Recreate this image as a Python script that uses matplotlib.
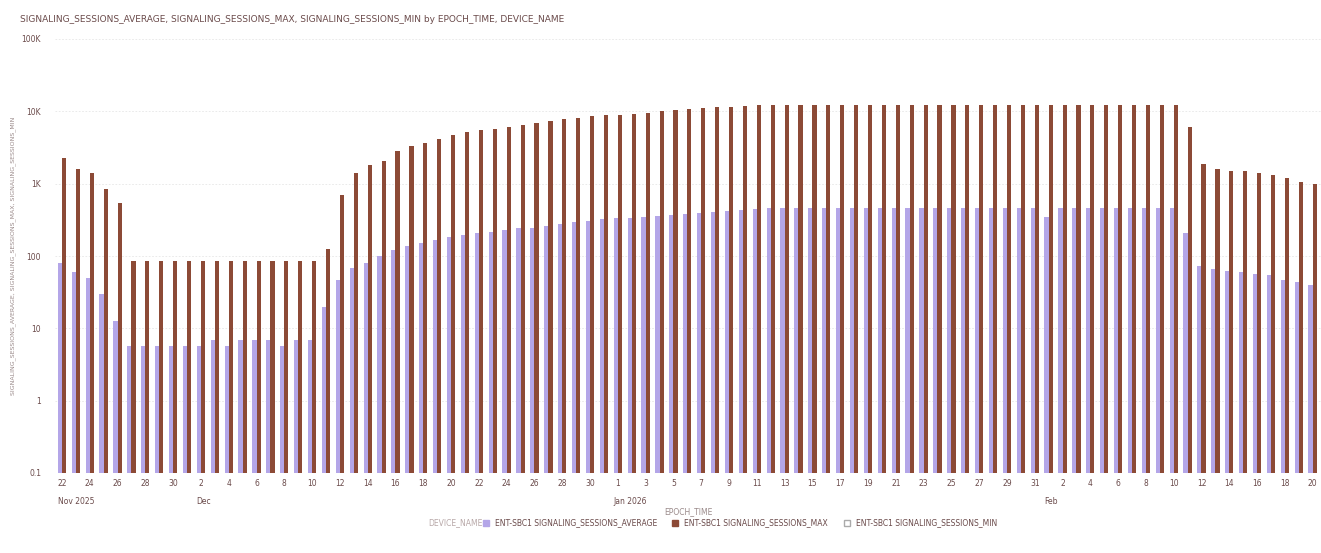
import numpy as np
import pandas as pd
import matplotlib
matplotlib.use("Agg")
import matplotlib.pyplot as plt
from matplotlib.patches import Patch

dates = pd.date_range("2025-11-22", "2026-02-20", freq="D")

avg_vals = [80, 60, 50, 30, 12.6,
            5.7, 5.7, 5.7, 5.7, 5.7, 5.7, 6.9, 5.7, 6.9, 6.9, 6.9, 5.7, 6.9, 6.9,
            20, 47, 68, 80, 100, 121, 138, 152, 167, 183, 196, 209, 217, 230, 240, 245,
            260, 280, 295, 305, 320,
            330, 340, 347, 360, 370, 380, 395, 410, 420, 435, 450,
            462, 462, 462, 462, 462, 462, 462, 462, 462, 462, 462, 462, 462, 462, 462,
            462, 462, 462, 462, 462, 347,
            462, 462, 462, 462, 462, 462, 462, 462, 462,
            209, 73, 66, 62, 60, 57, 55, 47, 44, 40]
max_vals = [2280, 1600, 1410, 850, 540,
            86, 86, 86, 86, 86, 86, 86, 86, 86, 86, 86, 86, 86, 86,
            125, 700, 1410, 1820, 2070, 2840, 3300, 3650, 4150, 4700, 5200, 5600, 5750, 6000,
            6400, 6800, 7300, 7800, 8000, 8500, 8900,
            8900, 9200, 9500, 10000, 10400, 10800, 11100, 11500, 11500, 11900, 12300,
            12300, 12300, 12300, 12300, 12300, 12300, 12300, 12300, 12300, 12300, 12300,
            12300, 12300, 12300, 12300, 12300, 12300, 12300, 12300, 12300, 12300,
            12300, 12300, 12300, 12300, 12300, 12300, 12300, 12300, 12300,
            6100, 1880, 1600, 1500, 1500, 1410, 1330, 1200, 1050, 1000]
min_vals = [np.nan] * len(dates)

y_ticks = [0.1, 1, 10, 100, 1000, 10000, 100000]
y_tick_labels = ["0.1", "1", "10", "100", "1K", "10K", "100K"]

c_avg = "#b4a6e8"
c_max = "#8c4a36"
c_min = "#d8d8d8"
txt = "#6a4a4a"

fig = plt.figure(figsize=(13.21, 5.53), dpi=100)
ax = fig.add_axes([55 / 1321, 80 / 553, 1266 / 1321, 434 / 553])

x = np.arange(len(dates))
w = 0.3
ax.bar(x - w / 2, avg_vals, width=w, color=c_avg)
ax.bar(x + w / 2, max_vals, width=w, color=c_max)
ax.bar(x + w * 1.5, min_vals, width=w, color=c_min)

ax.set_yscale("log")
ax.set_ylim(0.1, 100000)
ax.set_yticks(y_ticks)
ax.set_yticklabels(y_tick_labels)
ax.minorticks_off()
ax.set_xlim(-0.5, 90.6)

tick_pos = x[::2]
ax.set_xticks(tick_pos)
ax.set_xticklabels([str(d.day) for d in dates[::2]], fontsize=5.5, color=txt)
ax.tick_params(axis="x", length=0, pad=4)
ax.tick_params(axis="y", length=0, labelsize=5.5, labelcolor=txt, pad=10)

# month labels under the day labels
for i, d in enumerate(dates):
    if i == 0 or d.day == 1 and d.month != 12 and d.month != 2:
        lab = d.strftime("%b %Y")
    elif d.day == 1:
        lab = d.strftime("%b")
    elif d.month == 12 and d.day == 2:
        lab = "Dec"
    else:
        continue
    if d.month == 12 and d.day == 1:
        continue
    ax.text(i - 0.3, -0.055, lab, transform=ax.get_xaxis_transform(),
            fontsize=5.5, color=txt, va="top", ha="left")

ax.grid(axis="y", color="#e6e6e6", linestyle=(0, (2, 2)), lw=0.6)
ax.set_axisbelow(True)
for s in ax.spines.values():
    s.set_visible(False)

ax.set_xlabel("EPOCH_TIME", fontsize=5.5, color="#9a8a8a", labelpad=14)
ax.set_ylabel("SIGNALING_SESSIONS_AVERAGE, SIGNALING_SESSIONS_MAX, SIGNALING_SESSIONS_MIN",
              fontsize=4.5, color="#9a8a8a", labelpad=4)
fig.text(20 / 1321, 1 - 20 / 553,
         "SIGNALING_SESSIONS_AVERAGE, SIGNALING_SESSIONS_MAX, SIGNALING_SESSIONS_MIN by EPOCH_TIME, DEVICE_NAME",
         fontsize=6.5, color=txt, va="center")

handles = [Patch(color=c_avg), Patch(color=c_max), Patch(facecolor="white", edgecolor="#aaaaaa")]
names = ["ENT-SBC1 SIGNALING_SESSIONS_AVERAGE", "ENT-SBC1 SIGNALING_SESSIONS_MAX",
         "ENT-SBC1 SIGNALING_SESSIONS_MIN"]
fig.legend(handles, names, loc="center", bbox_to_anchor=(0.56, 1 - 523 / 553),
           ncol=3, frameon=False, fontsize=5.5, handlelength=0.8, handleheight=0.8,
           columnspacing=2, labelcolor=txt)
fig.text(0.365, 1 - 523 / 553, "DEVICE_NAME", fontsize=5.5, color="#b8a8a8", va="center", ha="right")

fig.savefig("out.png", dpi=100)
